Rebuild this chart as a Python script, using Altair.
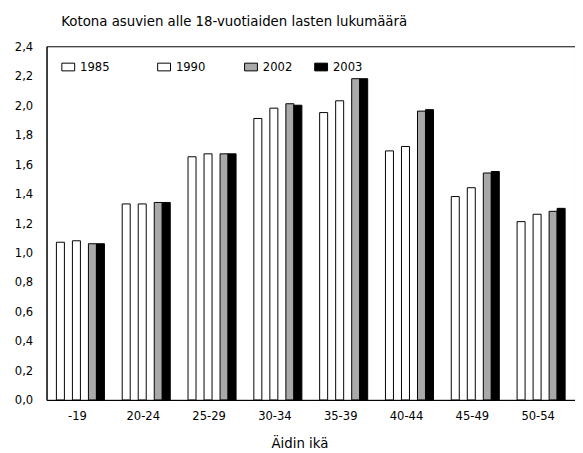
import altair as alt
import pandas as pd

ages = ["-19", "20-24", "25-29", "30-34", "35-39", "40-44", "45-49", "50-54"]
years = ["1985", "1990", "2002", "2003"]
v1985 = [1.07, 1.33, 1.65, 1.91, 1.95, 1.69, 1.38, 1.21]
v1990 = [1.08, 1.33, 1.67, 1.98, 2.03, 1.72, 1.44, 1.26]
v2002 = [1.06, 1.34, 1.67, 2.01, 2.18, 1.96, 1.54, 1.28]
v2003 = [1.06, 1.34, 1.67, 2.00, 2.18, 1.97, 1.55, 1.30]
slots = ["1985", "g1", "1990", "g2", "2002", "2003"]

rows = []
for yr, vals in zip(years, [v1985, v1990, v2002, v2003]):
    for a, v in zip(ages, vals):
        rows.append({"age": a, "year": yr, "value": v})
df = pd.DataFrame(rows)

FONT = "DejaVu Sans Condensed, Liberation Sans, sans-serif"
rect_path = "M-1,-0.6H1V0.6H-1Z"

base = alt.Chart(df).encode(
    x=alt.X("age:N", sort=ages,
            scale=alt.Scale(paddingInner=0.27, paddingOuter=0.15),
            axis=alt.Axis(title="Äidin ikä", labelAngle=0, ticks=False, domain=True,
                          domainColor="black", labelFont=FONT, labelFontSize=13,
                          labelColor="black", labelPadding=10, labelOffset=-3,
                          titleFont=FONT, titleFontSize=15, titleFontWeight="normal",
                          titleColor="black", titleX=256, titleY=48,
                          titleBaseline="alphabetic")),
    xOffset=alt.XOffset("year:N", scale=alt.Scale(domain=slots, paddingInner=0, paddingOuter=0)),
    y=alt.Y("value:Q", scale=alt.Scale(domain=[0, 2.4], nice=False),
            axis=alt.Axis(title=None, values=[round(i * 0.2, 1) for i in range(13)],
                          labelExpr="replace(format(datum.value, '.1f'), '.', ',')",
                          ticks=False, grid=False, domain=True, domainColor="black",
                          labelFont=FONT, labelFontSize=13, labelColor="black",
                          labelPadding=14)),
)

legend_common = dict(orient="none", direction="horizontal", title=None,
                     symbolType=rect_path, symbolSize=169, symbolStrokeColor="black",
                     symbolStrokeWidth=1, labelFont=FONT, labelFontSize=13,
                     labelColor="black", labelOffset=5, padding=0)

layer_a = base.transform_filter(
    alt.FieldOneOfPredicate(field="year", oneOf=["1985", "1990"])
).mark_bar(stroke="black", strokeWidth=1).encode(
    fill=alt.Fill("year:N", scale=alt.Scale(domain=["1985", "1990"], range=["white", "white"]),
                  legend=alt.Legend(legendX=15, legendY=14, columnPadding=46, **legend_common))
)

layer_b = base.transform_filter(
    alt.FieldOneOfPredicate(field="year", oneOf=["2002", "2003"])
).mark_bar(stroke="black", strokeWidth=1).encode(
    fill=alt.Fill("year:N", scale=alt.Scale(domain=["2002", "2003"], range=["#a9a9a9", "black"]),
                  legend=alt.Legend(legendX=200, legendY=14, columnPadding=20, **legend_common))
)

chart = alt.layer(layer_a, layer_b).resolve_scale(fill="independent").properties(
    width=535, height=358,
    title=alt.Title("Kotona asuvien alle 18-vuotiaiden lasten lukumäärä", anchor="start",
                    frame="group", dx=15, dy=20, offset=20, baseline="alphabetic", font=FONT,
                    fontSize=15, fontWeight="normal", color="black"),
    autosize=alt.AutoSizeParams(type="none"),
    padding={"left": 39, "top": 36, "right": 0, "bottom": 51},
).configure_view(stroke="black", strokeWidth=1)

chart.save("out.html", embed_options={"renderer": "svg", "actions": False})
